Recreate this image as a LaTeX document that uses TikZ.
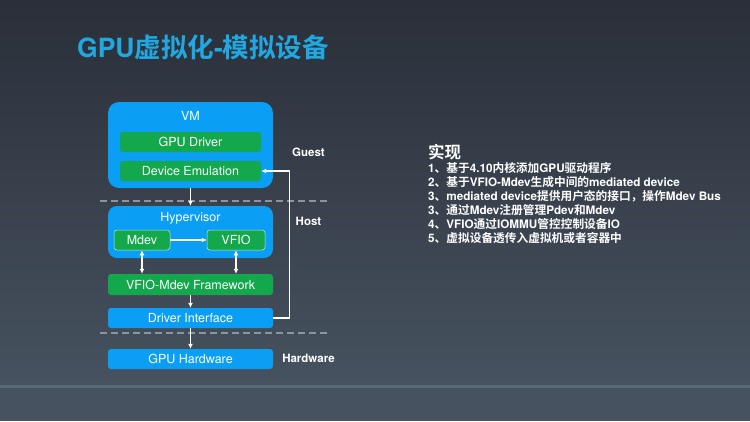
\documentclass[tikz,border=0pt]{standalone}
\usepackage{fontspec}
\setmainfont{TeX Gyre Heros}
\newfontfamily\cjk{Noto Sans CJK SC}[BoldFont={Noto Sans CJK SC Bold}]
\usetikzlibrary{arrows.meta}
\definecolor{bgtop}{HTML}{2A2F39}
\definecolor{bgbot}{HTML}{46525F}
\definecolor{band}{HTML}{5B6875}
\definecolor{boxblue}{HTML}{0A9EF4}
\definecolor{boxgreen}{HTML}{12A84B}
\definecolor{titleblue}{HTML}{21A8E1}
\definecolor{dashgray}{HTML}{8C959E}
\tikzset{
  bigbox/.style={fill=boxblue, rounded corners=11pt, draw=none},
  bluebox/.style={fill=boxblue, rounded corners=3pt, minimum width=165pt, minimum height=20pt, text=white, font=\fontsize{12.5}{13}\selectfont, inner sep=0pt},
  greenbox/.style={fill=boxgreen, rounded corners=3pt, minimum height=20pt, text=white, font=\fontsize{12.5}{13}\selectfont, inner sep=0pt},
  smallbox/.style={greenbox, draw=white!75!boxgreen, line width=0.5pt},
  lbl/.style={text=white, font=\fontsize{12.5}{13}\selectfont, inner sep=0pt},
  side/.style={text=white, font=\bfseries\fontsize{11.5}{12}\selectfont, inner sep=0pt},
  arr/.style={white, line width=1.3pt, -{Latex[length=5pt,width=5pt]}},
  darr/.style={white, line width=1.3pt, {Latex[length=5pt,width=5pt]}-{Latex[length=5pt,width=5pt]}},
  sep/.style={dashgray, line width=1.3pt, dash pattern=on 7pt off 4pt},
  rt/.style={text=white, anchor=west, inner sep=0pt, font=\bfseries\fontsize{11.7}{12}\selectfont},
}
\begin{document}
\begin{tikzpicture}[x=1pt,y=-1pt]
\useasboundingbox (0,0) rectangle (750,421);
\shade[top color=bgtop, bottom color=bgbot] (0,0) rectangle (750,385);
\fill[bgbot] (0,385) rectangle (750,421);
\fill[band] (0,385) rectangle (750,388);
% title
\node[anchor=west, text=titleblue, inner sep=0pt, font=\bfseries\fontsize{26.5}{29}\selectfont] (title) at (77,47) {GPU{\cjk\bfseries 虚拟化}-{\cjk\bfseries 模拟设备}};
% VM
\node[bigbox, minimum width=165pt, minimum height=86pt] (vm) at (190.5,145) {};
\node[lbl] (vmlbl) at (190.5,116) {VM};
\node[greenbox, minimum width=141pt] (gd) at (190.5,142) {GPU Driver};
\node[greenbox, minimum width=141pt] (de) at (190.5,171) {Device Emulation};
% Hypervisor
\node[bigbox, rounded corners=9pt, minimum width=165pt, minimum height=52pt] (hv) at (190.5,232) {};
\node[lbl] (hvlbl) at (190.5,218) {Hypervisor};
\node[smallbox, minimum width=56pt] (mdev) at (142,240) {Mdev};
\node[smallbox, minimum width=58pt] (vfio) at (236,240) {VFIO};
\node[greenbox, minimum width=165pt, minimum height=21pt] (fw) at (190.5,284.5) {VFIO-Mdev Framework};
\node[bluebox] (di) at (190.5,318) {Driver Interface};
\node[bluebox] (gh) at (190.5,359) {GPU Hardware};
% separators
\draw[sep] (100,201) -- (330,201);
\draw[sep] (100,333) -- (330,333);
% side labels
\node[side] (guest) at (308.5,152) {Guest};
\node[side] (host) at (308.5,221) {Host};
\node[side] (hw) at (308.5,358) {Hardware};
% connectors
\draw[arr] (vm.south) -- (hv.north);
\draw[arr] (mdev.east) -- (vfio.west);
\draw[darr] (mdev.south) -- (mdev.south |- fw.north);
\draw[darr] (vfio.south) -- (vfio.south |- fw.north);
\draw[arr] (fw.south) -- (di.north);
\draw[arr] (di.south) -- (gh.north);
\draw[arr] (di.east) -- ++(16,0) |- (de.east);
% right text
\node[rt, font=\bfseries\fontsize{16.5}{18}\selectfont] (h) at (428,152) {\cjk\bfseries 实现};
\node[rt] (l1) at (428,168) {1{\cjk\bfseries 、基于}4.10{\cjk\bfseries 内核添加}GPU{\cjk\bfseries 驱动程序}};
\node[rt] (l2) at (428,182) {2{\cjk\bfseries 、基于}VFIO-Mdev{\cjk\bfseries 生成中间的}mediated device};
\node[rt] (l3) at (428,196) {3{\cjk\bfseries 、}mediated device{\cjk\bfseries 提供用户态的接口，操作}Mdev Bus};
\node[rt] (l4) at (428,210) {3{\cjk\bfseries 、通过}Mdev{\cjk\bfseries 注册管理}Pdev{\cjk\bfseries 和}Mdev};
\node[rt] (l5) at (428,224) {4{\cjk\bfseries 、}VFIO{\cjk\bfseries 通过}IOMMU{\cjk\bfseries 管控控制设备}IO};
\node[rt] (l6) at (428,238) {5{\cjk\bfseries 、虚拟设备透传入虚拟机或者容器中}};
\end{tikzpicture}
\end{document}
